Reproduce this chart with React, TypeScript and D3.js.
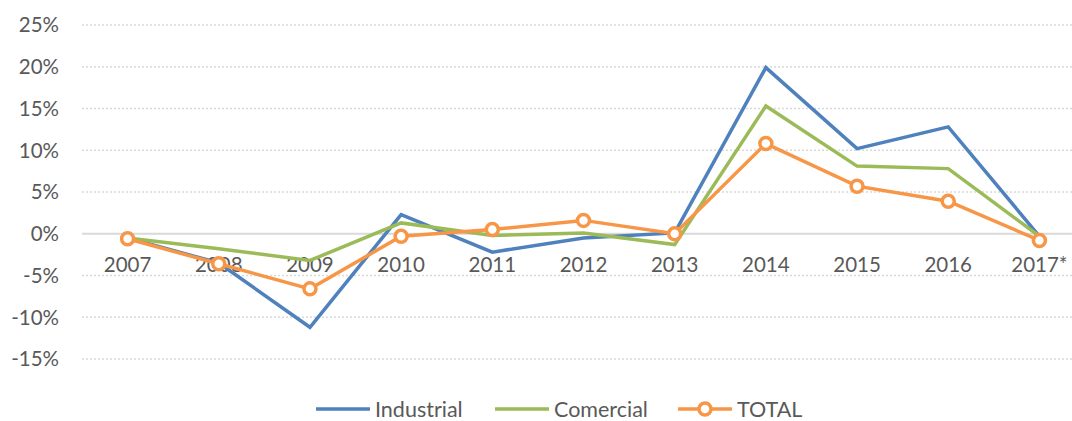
import React from "react";
import * as d3 from "d3";

const years = ["2007", "2008", "2009", "2010", "2011", "2012", "2013", "2014", "2015", "2016", "2017*"];
const industrial = [-0.5, -3.5, -11.2, 2.3, -2.2, -0.5, 0.1, 19.9, 10.2, 12.8, -0.3];
const comercial = [-0.5, -1.8, -3.2, 1.3, -0.2, 0.1, -1.3, 15.3, 8.1, 7.8, -0.3];
const total = [-0.6, -3.6, -6.6, -0.3, 0.5, 1.6, 0.0, 10.8, 5.7, 3.9, -0.8];
const yTicks = [-15, -10, -5, 0, 5, 10, 15, 20, 25];

const W = 1072, H = 421;
const FONT = "Lato, 'Open Sans', sans-serif";
const TXT = "#595959";

export default function App() {
  const x = d3.scalePoint<string>().domain(years).range([82, 1085]).padding(0.5);
  const y = d3.scaleLinear().domain([-15, 25]).range([359, 25]);
  const line = d3.line<number>().x((_, i) => x(years[i])!).y((d) => y(d));

  const series = [
    { name: "Industrial", data: industrial, color: "#4F81BD", marker: false },
    { name: "Comercial", data: comercial, color: "#9BBB59", marker: false },
    { name: "TOTAL", data: total, color: "#F79646", marker: true },
  ];
  const legendX = [316, 495, 678];
  const legendY = 409;

  return (
    <svg width={W} height={H} style={{ position: "absolute", left: 0, top: 0, background: "#fff" }}>
      {yTicks.map((t) => (
        <g key={t}>
          <line
            x1={82}
            x2={W}
            y1={y(t)}
            y2={y(t)}
            stroke="#d9d9d9"
            strokeWidth={t === 0 ? 2 : 1.5}
            strokeDasharray={t === 0 ? undefined : "2,2"}
          />
          <text x={59} y={y(t)} dy="0.36em" textAnchor="end" fontFamily={FONT} fontSize={20.5} fill={TXT}>
            {t}%
          </text>
        </g>
      ))}
      {years.map((yr) => (
        <text key={yr} x={x(yr)} y={272} textAnchor="middle" fontFamily={FONT} fontSize={20.5} fill={TXT}>
          {yr}
        </text>
      ))}
      {series.map((s) => (
        <g key={s.name}>
          <path d={line(s.data) || ""} fill="none" stroke={s.color} strokeWidth={3.5} strokeLinejoin="miter" />
          {s.marker &&
            s.data.map((d, i) => (
              <circle key={i} cx={x(years[i])} cy={y(d)} r={6} fill="#fff" stroke={s.color} strokeWidth={3.5} />
            ))}
        </g>
      ))}
      {series.map((s, i) => (
        <g key={"lg" + s.name}>
          <line x1={legendX[i]} x2={legendX[i] + 54} y1={legendY} y2={legendY} stroke={s.color} strokeWidth={3.5} />
          {s.marker && <circle cx={legendX[i] + 27} cy={legendY} r={6} fill="#fff" stroke={s.color} strokeWidth={3.5} />}
          <text x={legendX[i] + 59} y={legendY} dy="0.36em" fontFamily={FONT} fontSize={21.5} fill={TXT}>
            {s.name}
          </text>
        </g>
      ))}
    </svg>
  );
}
